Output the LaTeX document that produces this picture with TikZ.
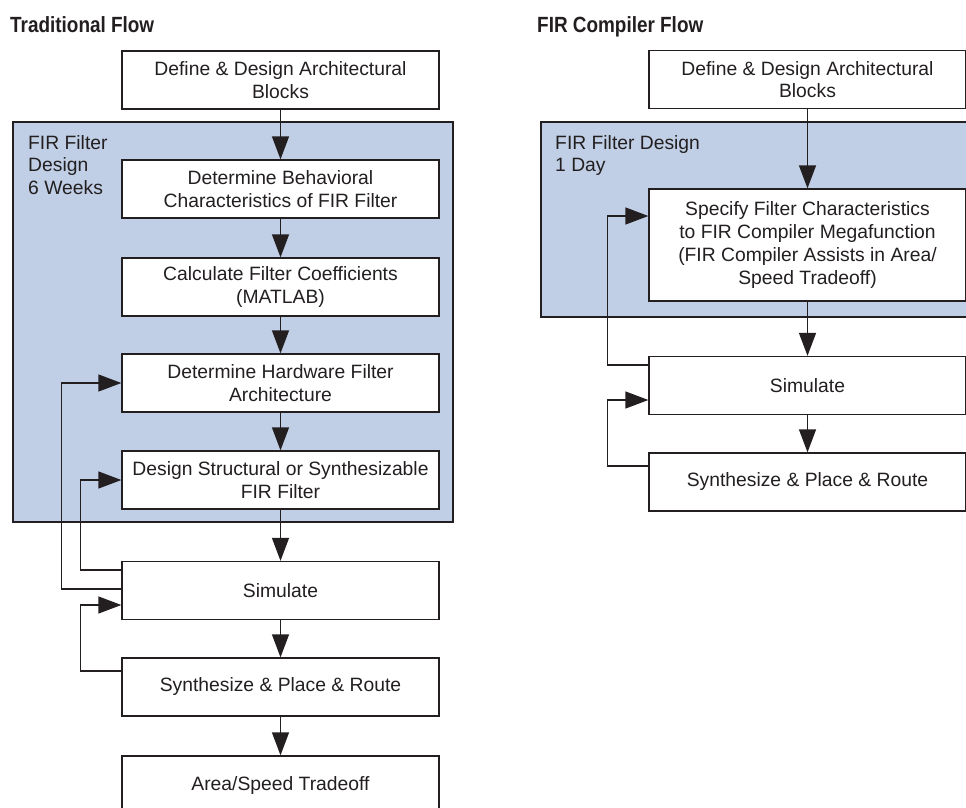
\documentclass[tikz,border=0pt]{standalone}
\usepackage{fontspec}
\setmainfont{Liberation Sans}
\newfontfamily\titlefont[FakeStretch=0.86]{Liberation Sans}
\usetikzlibrary{arrows.meta}
\definecolor{ink}{RGB}{35,31,32}
\definecolor{firblue}{RGB}{192,207,229}
\newcommand{\boxfont}{\fontsize{19.3}{22.7}\selectfont}

\begin{document}
\begin{tikzpicture}[x=1pt, y=-1pt,
	block/.style={draw=ink, line width=1.3pt, fill=white, minimum width=317pt,
	minimum height=58pt, inner sep=0pt, align=center, font=\boxfont, text=ink},
	firarea/.style={draw=ink, line width=1.3pt, fill=firblue},
	flow/.style={draw=ink, line width=1.3pt, -{Triangle[length=23pt, width=17pt]}},
	title/.style={anchor=base west, inner sep=0pt, font=\titlefont\bfseries\fontsize{22}{26}\selectfont, text=ink},
	tag/.style={anchor=north west, inner sep=0pt, align=left, font=\boxfont, text=ink}]
\useasboundingbox (0,0) rectangle (966,808);
\clip (0,0) rectangle (966,808);
% traditional flow
\node[title] (Ltitle) at (10,33) {Traditional Flow};
\draw[firarea] (13,122) rectangle (453,522);
\node[tag] (Ltag) at (28,135) {FIR Filter\\Design\\6 Weeks};
\node[block] (Ldef) at (280.5,80) {Define \& Design Architectural\\Blocks};
\node[block] (Lbeh) at (280.5,189) {Determine Behavioral\\Characteristics of FIR Filter};
\node[block] (Lcoef) at (280.5,287) {Calculate Filter Coefficients\\(MATLAB)};
\node[block] (Lhw) at (280.5,383) {Determine Hardware Filter\\Architecture};
\node[block] (Ldes) at (280.5,480) {Design Structural or Synthesizable\\FIR Filter};
\node[block] (Lsim) at (280.5,590.5) {Simulate};
\node[block] (Lsyn) at (280.5,687) {Synthesize \& Place \& Route};
\node[block] (Larea) at (280.5,785) {Area/Speed Tradeoff};
\draw[flow] (Ldef) -- (Lbeh);
\draw[flow] (Lbeh) -- (Lcoef);
\draw[flow] (Lcoef) -- (Lhw);
\draw[flow] (Lhw) -- (Ldes);
\draw[flow] (Ldes) -- (Lsim);
\draw[flow] (Lsim) -- (Lsyn);
\draw[flow] (Lsyn) -- (Larea);
\draw[flow] ([yshift=1.5pt]Lsim.west) -- ++(-60,0) |- (Lhw.west);
\draw[flow] ([yshift=20.5pt]Lsim.west) -- ++(-41,0) |- (Ldes.west);
\draw[flow] ([yshift=16pt]Lsyn.west) -- ++(-41,0) |- ([yshift=-14.5pt]Lsim.west);
% FIR compiler flow
\node[title] (Rtitle) at (537,33) {FIR Compiler Flow};
\draw[firarea] (541,122) rectangle (985,317);
\node[tag] (Rtag) at (555,135) {FIR Filter Design\\1 Day};
\node[block] (Rdef) at (807.5,79.5) {Define \& Design Architectural\\Blocks};
\node[block, minimum height=112pt] (Rspec) at (807.5,245) {Specify Filter Characteristics\\to FIR Compiler Megafunction\\(FIR Compiler Assists in Area/\\Speed Tradeoff)};
\node[block] (Rsim) at (807.5,385.5) {Simulate};
\node[block] (Rsyn) at (807.5,482) {Synthesize \& Place \& Route};
\draw[flow] (Rdef) -- (Rspec);
\draw[flow] (Rspec) -- (Rsim);
\draw[flow] (Rsim) -- (Rsyn);
\draw[flow] ([yshift=20.5pt]Rsim.west) -- ++(-41,0) |- ([yshift=29pt]Rspec.west);
\draw[flow] ([yshift=16pt]Rsyn.west) -- ++(-41,0) |- ([yshift=-14.5pt]Rsim.west);
\end{tikzpicture}
\end{document}
